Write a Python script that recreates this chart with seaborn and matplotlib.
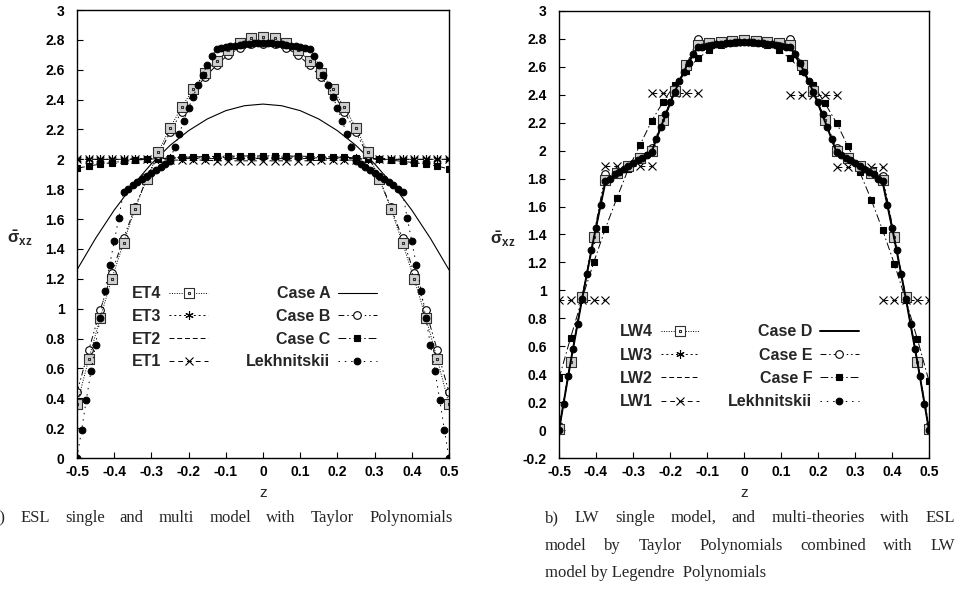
import numpy as np
import pandas as pd
import matplotlib
matplotlib.use("Agg")
import matplotlib.pyplot as plt
from matplotlib.lines import Line2D
from matplotlib.path import Path
from matplotlib.ticker import FuncFormatter
import seaborn as sns

# ==============================================================================
# DATA
# ==============================================================================
z_coarse = np.linspace(-0.5, 0.5, 33)   # 1/32 steps: rows carrying markers
z_fine = np.linspace(-0.5, 0.5, 81)     # exact solution sampling
z_parab = np.linspace(-0.5, 0.5, 21)    # case A curve

lekhnitskii = [
    0.00, 0.19, 0.39, 0.58, 0.76, 0.94, 1.12, 1.29, 1.45, 1.61, 1.78,
    1.80, 1.83, 1.85, 1.87, 1.89, 1.91, 1.93, 1.95, 1.97, 1.99,
    2.085, 2.17, 2.26, 2.345, 2.42, 2.50, 2.565, 2.63, 2.69, 2.74,
    2.745, 2.75, 2.757, 2.762, 2.767, 2.771, 2.774, 2.776, 2.778, 2.779,
    2.778, 2.776, 2.774, 2.771, 2.767, 2.762, 2.757, 2.75, 2.745, 2.74,
    2.69, 2.63, 2.565, 2.50, 2.42, 2.345, 2.26, 2.17, 2.085, 1.99,
    1.97, 1.95, 1.93, 1.91, 1.89, 1.87, 1.85, 1.83, 1.80, 1.78,
    1.61, 1.45, 1.29, 1.12, 0.94, 0.76, 0.58, 0.39, 0.19, 0.00,
]

# --- panel a) ESL, Taylor ---
et4 = [0.36, 0.66, 0.94, 1.20, 1.44, 1.67, 1.87, 2.05, 2.21, 2.35, 2.47, 2.58,
       2.66, 2.73, 2.78, 2.81, 2.82, 2.81, 2.78, 2.73, 2.66, 2.58, 2.47, 2.35,
       2.21, 2.05, 1.87, 1.67, 1.44, 1.20, 0.94, 0.66, 0.36]
et3 = [2.00, 2.00, 2.00, 2.00, 2.00, 2.005, 2.005, 2.005, 2.01, 2.01, 2.01,
       2.01, 2.01, 2.015, 2.015, 2.015, 2.015, 2.015, 2.015, 2.015, 2.01, 2.01,
       2.01, 2.01, 2.01, 2.005, 2.005, 2.005, 2.00, 2.00, 2.00, 2.00, 2.00]
et2 = [2.00, 2.00, 2.00, 2.00, 2.00, 2.00, 2.005, 2.005, 2.005, 2.005, 2.005,
       2.005, 2.005, 2.005, 2.005, 2.005, 2.005, 2.005, 2.005, 2.005, 2.005,
       2.005, 2.005, 2.005, 2.005, 2.005, 2.005, 2.00, 2.00, 2.00, 2.00, 2.00, 2.00]
et1 = [2.00, 2.00, 2.00, 2.00, 2.00, 2.00, 2.00, 2.00, 1.995, 1.995, 1.995,
       1.995, 1.99, 1.99, 1.99, 1.99, 1.99, 1.99, 1.99, 1.99, 1.99, 1.995,
       1.995, 1.995, 1.995, 2.00, 2.00, 2.00, 2.00, 2.00, 2.00, 2.00, 2.00]
case_a = [1.26, 1.471, 1.660, 1.826, 1.970, 2.093, 2.192, 2.270, 2.326, 2.359, 2.370,
          2.359, 2.326, 2.270, 2.192, 2.093, 1.970, 1.826, 1.660, 1.471, 1.26]
case_b = [0.44, 0.72, 0.99, 1.24, 1.47, 1.68, 1.87, 2.03, 2.18, 2.32, 2.45, 2.55,
          2.63, 2.70, 2.745, 2.77, 2.775, 2.77, 2.745, 2.70, 2.63, 2.55, 2.45, 2.32,
          2.18, 2.03, 1.87, 1.68, 1.47, 1.24, 0.99, 0.72, 0.44]
case_c = [1.94, 1.955, 1.968, 1.978, 1.987, 1.994, 2.00, 2.005, 2.01, 2.013, 2.016,
          2.018, 2.02, 2.021, 2.022, 2.023, 2.023, 2.023, 2.022, 2.021, 2.02, 2.018,
          2.016, 2.013, 2.01, 2.005, 2.00, 1.994, 1.987, 1.978, 1.968, 1.955, 1.935]

# --- panel b) LW / multi-theories ---
lw4 = [0.01, 0.49, 0.95, 1.38, 1.79, 1.84, 1.89, 1.95, 2.00, 2.22, 2.43, 2.61,
       2.76, 2.77, 2.78, 2.785, 2.79, 2.785, 2.78, 2.77, 2.76, 2.61, 2.43, 2.22,
       2.00, 1.95, 1.89, 1.84, 1.79, 1.38, 0.95, 0.49, 0.01]
lw3 = [0.00, 0.49, 0.94, 1.37, 1.78, 1.84, 1.89, 1.94, 1.99, 2.21, 2.42, 2.60,
       2.75, 2.765, 2.775, 2.78, 2.785, 2.78, 2.775, 2.765, 2.75, 2.60, 2.42, 2.21,
       1.99, 1.94, 1.89, 1.84, 1.78, 1.37, 0.94, 0.49, 0.00]
lw2 = [0.00, 0.485, 0.94, 1.37, 1.78, 1.84, 1.89, 1.94, 1.99, 2.21, 2.42, 2.60,
       2.745, 2.76, 2.77, 2.775, 2.78, 2.775, 2.77, 2.76, 2.745, 2.60, 2.42, 2.21,
       1.99, 1.94, 1.89, 1.84, 1.78, 1.37, 0.94, 0.485, 0.00]
lw1_edges = [-0.5, -0.375, -0.25, -0.125, 0.125, 0.25, 0.375, 0.5]
lw1_vals = [0.93, 1.89, 2.41, 2.78, 2.40, 1.88, 0.93]
case_d = [0.00, 0.485, 0.94, 1.37, 1.77, 1.84, 1.89, 1.94, 1.99, 2.21, 2.42, 2.60,
          2.74, 2.755, 2.767, 2.775, 2.78, 2.775, 2.767, 2.755, 2.74, 2.60, 2.42, 2.21,
          1.99, 1.94, 1.89, 1.84, 1.77, 1.37, 0.94, 0.485, 0.00]
case_e = [0.03, 0.49, 0.95, 1.39, 1.83, 1.85, 1.90, 1.95, 2.02, 2.22, 2.43, 2.61,
          2.80, 2.77, 2.775, 2.78, 2.785, 2.78, 2.775, 2.77, 2.80, 2.61, 2.43, 2.22,
          2.02, 1.95, 1.90, 1.85, 1.82, 1.39, 0.95, 0.49, 0.03]
case_f = [0.37, 0.66, 0.94, 1.20, 1.44, 1.66, 1.87, 2.04, 2.21, 2.35, 2.47, 2.57,
          2.66, 2.72, 2.76, 2.78, 2.79, 2.78, 2.76, 2.72, 2.66, 2.57, 2.47, 2.34,
          2.20, 2.03, 1.85, 1.65, 1.43, 1.19, 0.93, 0.65, 0.35]

legend_a = ["ET4", "ET3", "ET2", "ET1", "Case A", "Case B", "Case C", "Lekhnitskii"]
legend_b = ["LW4", "LW3", "LW2", "LW1", "Case D", "Case E", "Case F", "Lekhnitskii"]

caption_a = "a) ESL single and multi model with Taylor Polynomials"
caption_b = ["b) LW single model, and multi-theories with ESL",
             "model by Taylor Polynomials combined with LW",
             "model by Legendre  Polynomials"]

# ==============================================================================
# STYLES
# ==============================================================================
SQ_DOT = Path(
    [(-1, -1), (1, -1), (1, 1), (-1, 1), (-1, -1),
     (-0.25, -0.25), (0.25, -0.25), (0.25, 0.25), (-0.25, 0.25), (-0.25, -0.25)],
    [Path.MOVETO, Path.LINETO, Path.LINETO, Path.LINETO, Path.CLOSEPOLY] * 2,
)

STY = {
    "4": dict(ls=(0, (1, 1.5)), marker=SQ_DOT, ms=6.5, mfc="#d0d0d0", mec="#303030"),
    "3": dict(ls=(0, (2, 3)), marker=(6, 2, 0), ms=6, mfc="k", mec="k"),
    "2": dict(ls=(0, (5, 3)), marker="", ms=0, mfc="k", mec="k"),
    "1": dict(ls=(0, (5, 4)), marker="x", ms=5.5, mfc="k", mec="k"),
    "A": dict(ls="-", marker="", ms=0, mfc="k", mec="k"),
    "B": dict(ls=(0, (6, 3, 1.5, 3, 1.5, 3)), marker="o", ms=5.5, mfc="white", mec="k"),
    "C": dict(ls=(0, (8, 3, 1.5, 3)), marker="s", ms=4.5, mfc="k", mec="k"),
    "L": dict(ls=(0, (1.5, 5)), marker="o", ms=4.8, mfc="k", mec="k"),
}
LW = 0.7

sns.set_style("white")
plt.rcParams["font.family"] = ["Liberation Sans", "DejaVu Sans"]
plt.rcParams["font.weight"] = "bold"
plt.rcParams["mathtext.fontset"] = "custom"
plt.rcParams["mathtext.rm"] = "Liberation Sans:bold"
plt.rcParams["mathtext.it"] = "Liberation Sans:bold"
plt.rcParams["mathtext.bf"] = "Liberation Sans:bold"


def draw(ax, z, vals, key, lw=LW, zorder=2):
    s = STY[key]
    sns.lineplot(x=z, y=vals, ax=ax, estimator=None, sort=False, color="k",
                 linewidth=lw, linestyle=s["ls"], marker=s["marker"],
                 markersize=s["ms"], markerfacecolor=s["mfc"],
                 markeredgecolor=s["mec"], markeredgewidth=0.8, zorder=zorder)


def proxy(key, lw=LW, mfc=None):
    s = STY[key]
    return Line2D([], [], color="k", lw=lw, ls=s["ls"], marker=s["marker"],
                  ms=s["ms"], mfc=mfc or s["mfc"], mec=s["mec"], mew=0.8)


def fmt(v, _):
    return f"{round(v, 1) + 0:g}"


def style_axes(ax, ymin):
    ax.set_xlim(-0.5, 0.5)
    ax.set_ylim(ymin, 3)
    ax.set_xticks(np.arange(-0.5, 0.51, 0.1))
    ax.set_yticks(np.arange(ymin, 3.01, 0.2))
    ax.xaxis.set_major_formatter(FuncFormatter(fmt))
    ax.yaxis.set_major_formatter(FuncFormatter(fmt))
    ax.tick_params(direction="in", length=4, width=0.8, labelsize=10,
                   top=False, right=False, bottom=True, left=True, colors="k")
    ax.tick_params(axis="x", pad=5)
    ax.tick_params(axis="y", pad=9)
    for sp in ax.spines.values():
        sp.set_color("k")
        sp.set_linewidth(1.0)
    ax.set_xlabel("z", fontsize=11, va="center")
    ax.xaxis.set_label_coords(0.5, -0.078)
    ax.set_ylabel(r"$\bar{\sigma}_{xz}$", fontsize=12, rotation=0, ha="center", va="center")
    ax.yaxis.set_label_coords(-0.153, 0.49)


def justify(fig, text, x0, x1, y, **kw):
    # spread the words of one caption line between x0 and x1 (pixels)
    r = fig.canvas.get_renderer()
    W = fig.bbox.width
    words = text.split(" ")
    arts = [fig.text(0, y, w, va="center", **kw) for w in words]
    widths = [a.get_window_extent(r).width for a in arts]
    gap = (x1 - x0 - sum(widths)) / (len(words) - 1)
    x = x0
    for a, w in zip(arts, widths):
        a.set_x(x / W)
        x += w + gap


fig = plt.figure(figsize=(9.58, 6.09), dpi=100)
ax_a = fig.add_axes([77 / 958, 151 / 609, 372 / 958, 448 / 609])
ax_b = fig.add_axes([559 / 958, 151 / 609, 370 / 958, 447 / 609])

# ---------------- panel a ----------------
draw(ax_a, z_parab, case_a, "A", lw=0.8)
draw(ax_a, z_coarse, et2, "2")
draw(ax_a, z_coarse, et1, "1")
draw(ax_a, z_coarse, et3, "3")
draw(ax_a, z_coarse, case_c, "C")
draw(ax_a, z_coarse, case_b, "B")
draw(ax_a, z_coarse, et4, "4")
draw(ax_a, z_fine, lekhnitskii, "L", zorder=3)
style_axes(ax_a, 0)
hand_a = ([proxy("4", mfc="white")] + [proxy(k) for k in ["3", "2", "1"]]
          + [proxy("A", 0.8)] + [proxy(k) for k in ["B", "C", "L"]])
ax_a.legend(hand_a, legend_a, ncol=2, markerfirst=False, frameon=False, loc="upper left",
            bbox_to_anchor=(0.148, 0.383), prop=dict(family="Liberation Sans", weight="bold", size=11.5),
            handlelength=2.4, handletextpad=0.5, columnspacing=2.4, labelspacing=0.48,
            numpoints=1, borderpad=0, borderaxespad=0)

# ---------------- panel b ----------------
rows = []
for i, v in enumerate(lw1_vals):
    inside = (z_coarse >= lw1_edges[i] - 1e-9) & (z_coarse <= lw1_edges[i + 1] + 1e-9)
    for zz in z_coarse[inside]:
        rows.append({"z": zz, "v": v, "layer": i})
df_lw1 = pd.DataFrame(rows)

draw(ax_b, z_coarse, lw2, "2")
s1 = STY["1"]
sns.lineplot(data=df_lw1, x="z", y="v", units="layer", estimator=None, sort=False, ax=ax_b,
             color="k", linewidth=LW, linestyle=s1["ls"], marker=s1["marker"],
             markersize=s1["ms"], markerfacecolor="k", markeredgecolor="k", markeredgewidth=0.8)
draw(ax_b, z_coarse, case_f, "C")
draw(ax_b, z_coarse, lw3, "3")
draw(ax_b, z_coarse, case_e, "B")
draw(ax_b, z_coarse, lw4, "4")
draw(ax_b, z_coarse, case_d, "A", lw=1.4)
draw(ax_b, z_fine, lekhnitskii, "L", zorder=3)
style_axes(ax_b, -0.2)
hand_b = ([proxy("4", mfc="white")] + [proxy(k) for k in ["3", "2", "1"]]
          + [proxy("A", 1.4)] + [proxy(k) for k in ["B", "C", "L"]])
ax_b.legend(hand_b, legend_b, ncol=2, markerfirst=False, frameon=False, loc="upper left",
            bbox_to_anchor=(0.165, 0.299), prop=dict(family="Liberation Sans", weight="bold", size=11.5),
            handlelength=2.4, handletextpad=0.5, columnspacing=1.8, labelspacing=0.52,
            numpoints=1, borderpad=0, borderaxespad=0)

# ---------------- captions ----------------
cap = dict(family="Liberation Serif", fontweight="normal", fontsize=12)
justify(fig, caption_a, -8, 453, 1 - 518 / 609, **cap)
justify(fig, caption_b[0], 545, 955, 1 - 518 / 609, **cap)
justify(fig, caption_b[1], 545, 955, 1 - 546 / 609, **cap)
fig.text(545 / 958, 1 - 573 / 609, caption_b[2], va="center", ha="left", **cap)

fig.savefig("out.png", dpi=100)
